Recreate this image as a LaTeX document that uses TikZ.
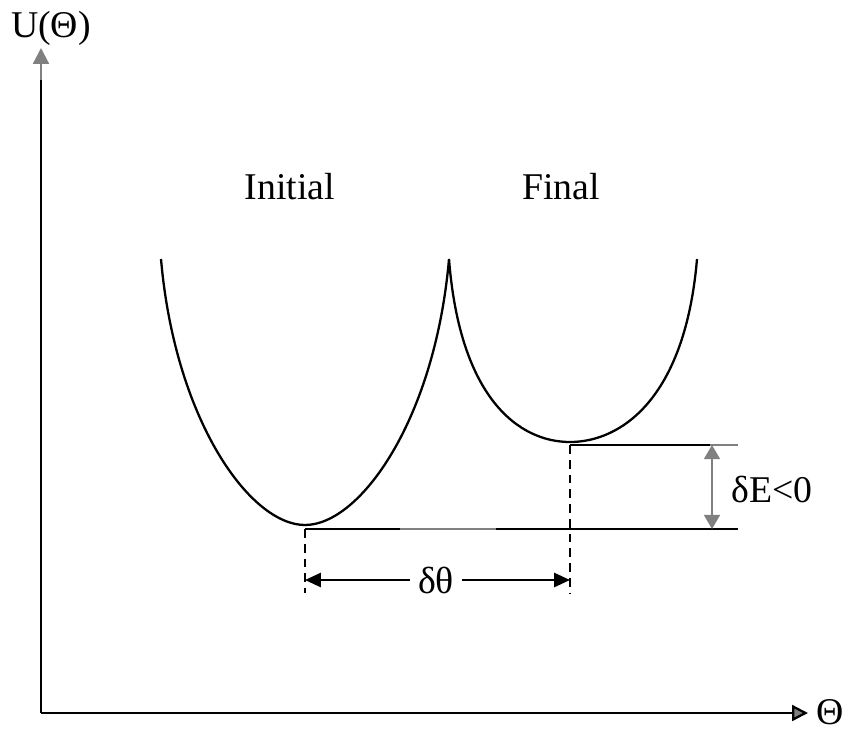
\documentclass[tikz,border=0pt]{standalone}
\usepackage{fontspec}
\setmainfont{Liberation Serif}
\usetikzlibrary{arrows.meta}
\definecolor{ShiftGray}{RGB}{128,128,128}
\tikzset{
  axis/.style={line width=1.3pt, black},
  curve/.style={line width=1.3pt, black},
  level/.style={line width=1.3pt, black},
  guide/.style={line width=1.1pt, dash pattern=on 5pt off 3.4pt},
  dimarr/.style={line width=1.3pt, -{Triangle[length=9pt, width=8pt]}},
  dimgray/.style={line width=1.3pt, ShiftGray,
                  {Triangle[length=8pt, width=9pt]}-{Triangle[length=8pt, width=9pt]}},
  lbl/.style={font=\fontsize{21.5}{26}\selectfont, inner sep=0pt},
}
\begin{document}
\begin{tikzpicture}[x=0.02cm, y=-0.02cm]
  \useasboundingbox (0,0) rectangle (849,731);

  % axes
  \coordinate (origin) at (41,713);
  \coordinate (ybreak) at (41,80);
  \coordinate (ytip)   at (41,48);
  \coordinate (xtip)   at (808,713);
  \draw[axis] (origin) -- (ybreak);
  \draw[axis, ShiftGray, -{Triangle[length=9pt, width=9pt]}] (ybreak) -- (ytip);
  \draw[axis, -{Triangle[length=9pt, width=9pt, fill=ShiftGray]}] (origin) -- (xtip);
  \node[lbl, anchor=base] (ulab) at (51,37) {U(Θ)};
  \node[lbl, anchor=base] (thlab) at (830,724) {Θ};

  % the two wells
  \coordinate (topL) at (161,259);
  \coordinate (minL) at (305,525);
  \coordinate (cusp) at (449,259);
  \coordinate (minR) at (570,442);
  \coordinate (topR) at (697,259);
  \draw[curve] (topL) .. controls (175,420) and (250,525) .. (minL)
               .. controls (360,525) and (435,420) .. (cusp)
               .. controls (460,400) and (520,442) .. (minR)
               .. controls (620,442) and (685,400) .. (topR);
  \node[lbl, anchor=base] (init) at (290,199) {Initial};
  \node[lbl, anchor=base] (fin)  at (561,199) {Final};

  % energy levels
  \coordinate (lowL)  at (305,529);
  \coordinate (lowA)  at (400,529);
  \coordinate (lowB)  at (496,529);
  \coordinate (lowR)  at (738,529);
  \coordinate (highL) at (570,445);
  \coordinate (highA) at (710,445);
  \coordinate (highR) at (738,445);
  \draw[level] (lowL) -- (lowA);
  \draw[level, ShiftGray] (lowA) -- (lowB);
  \draw[level] (lowB) -- (lowR);
  \draw[level] (highL) -- (highA);
  \draw[level, ShiftGray] (highA) -- (highR);

  % shift in angle
  \coordinate (footL) at (305,593);
  \coordinate (footR) at (570,593);
  \draw[guide] (lowL) -- (footL);
  \draw[guide] (highL) -- (footR);
  \coordinate (armL) at (305,580);
  \coordinate (armR) at (570,580);
  \node[lbl, inner xsep=4.5pt] (dth) at (436,580) {δθ};
  \draw[dimarr] (dth) -- (armL);
  \draw[dimarr] (dth) -- (armR);

  % shift in energy
  \coordinate (eTop) at (712,445);
  \coordinate (eBot) at (712,529);
  \draw[dimgray] (eTop) -- (eBot);
  \node[lbl, anchor=base] (dE) at (772,502) {δE<0};
\end{tikzpicture}
\end{document}
